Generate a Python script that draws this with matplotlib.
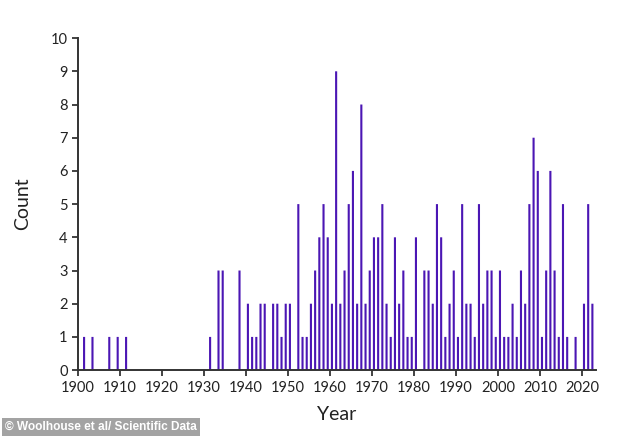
import matplotlib
matplotlib.use("Agg")
import matplotlib.pyplot as plt
import numpy as np

# counts per year (years with no bar are left out)
years = [1901, 1903, 1907, 1909, 1911,
         1931, 1933, 1934, 1938,
         1940, 1941, 1942, 1943, 1944, 1946, 1947, 1948, 1949, 1950,
         1952, 1953, 1954, 1955, 1956, 1957, 1958, 1959, 1960, 1961,
         1962, 1963, 1964, 1965, 1966, 1967, 1968, 1969, 1970, 1971,
         1972, 1973, 1974, 1975, 1976, 1977, 1978, 1979, 1980,
         1982, 1983, 1984, 1985, 1986, 1987, 1988, 1989, 1990, 1991,
         1992, 1993, 1994, 1995, 1996, 1997, 1998, 1999, 2000, 2001,
         2002, 2003, 2004, 2005, 2006, 2007, 2008, 2009, 2010, 2011,
         2012, 2013, 2014, 2015, 2016, 2018, 2020, 2021, 2022]
counts = [1, 1, 1, 1, 1,
          1, 3, 3, 3,
          2, 1, 1, 2, 2, 2, 2, 1, 2, 2,
          5, 1, 1, 2, 3, 4, 5, 4, 2, 9,
          2, 3, 5, 6, 2, 8, 2, 3, 4, 4,
          5, 2, 1, 4, 2, 3, 1, 1, 4,
          3, 3, 2, 5, 4, 1, 2, 3, 1, 5,
          2, 2, 1, 5, 2, 3, 3, 1, 3, 1,
          1, 2, 1, 3, 2, 5, 7, 6, 1, 3,
          6, 3, 1, 5, 1, 1, 2, 5, 2]
xticks = list(range(1900, 2021, 10))
yticks = list(range(0, 11))

plt.rcParams['font.family'] = ['Lato', 'DejaVu Sans']

fig = plt.figure(figsize=(6.34, 4.38), dpi=100)
ax = fig.add_axes([0.123, 0.155, 0.817, 0.758])

bars = ax.bar(np.array(years) + 0.45, counts, width=0.5, color='#4b16b4',
              edgecolor='none', linewidth=0)
for b in bars:
    b.set_snap(False)

ax.set_xlim(1900, 2023.3)
ax.set_ylim(0, 10)
ax.set_xticks(xticks)
ax.set_yticks(yticks)
ax.tick_params(axis='both', labelsize=10.5, length=4, width=1.2,
               direction='out', colors='#222222')
for s in ['top', 'right']:
    ax.spines[s].set_visible(False)
for s in ['left', 'bottom']:
    ax.spines[s].set_color('#333333')
    ax.spines[s].set_linewidth(1.4)

ax.set_xlabel('Year', fontsize=14, color='#222222', labelpad=8)
ax.set_ylabel('Count', fontsize=14, color='#222222', labelpad=14)

fig.text(0.008, 0.012, '\u00a9 Woolhouse et al/ Scientific Data', fontsize=8.6,
         color='white', fontweight='bold', family=['Liberation Sans', 'DejaVu Sans'],
         ha='left', va='bottom',
         bbox=dict(boxstyle='square,pad=0.25', facecolor='#a3a3a3', edgecolor='none'))

fig.savefig('out.png', dpi=100)
